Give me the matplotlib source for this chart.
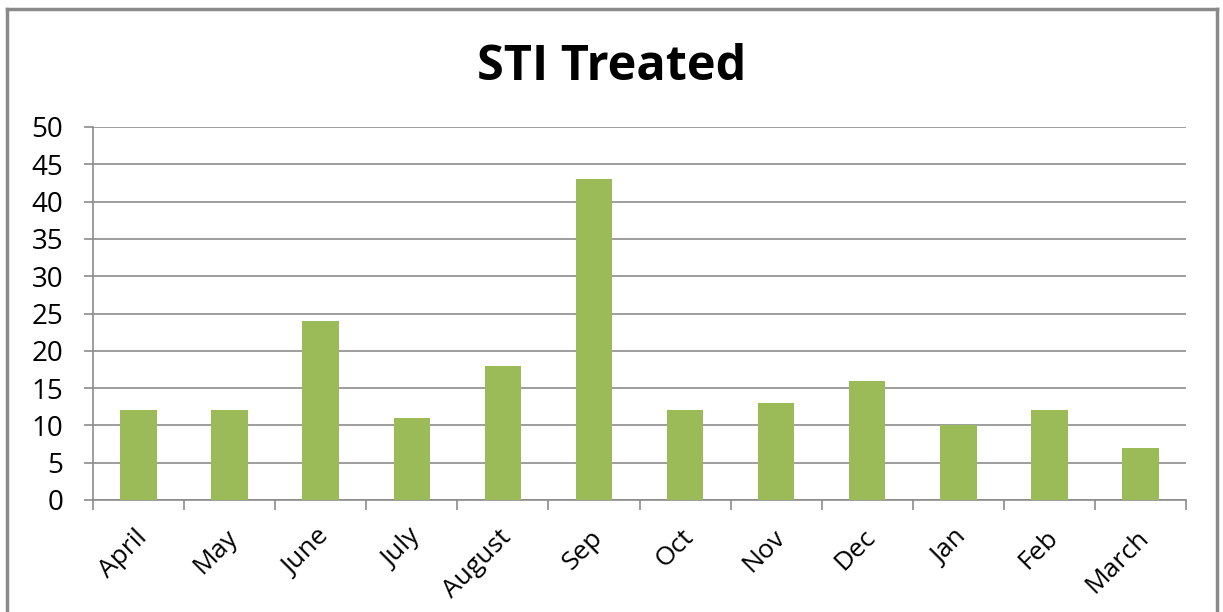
import matplotlib
matplotlib.use("Agg")
import matplotlib.pyplot as plt
from matplotlib.lines import Line2D
from matplotlib.ticker import FixedLocator
import matplotlib.transforms as mtransforms

months = ["April", "May", "June", "July", "August", "Sep", "Oct", "Nov", "Dec", "Jan", "Feb", "March"]
values = [12, 12, 24, 11, 18, 43, 12, 13, 16, 10, 12, 7]
yticks = [0, 5, 10, 15, 20, 25, 30, 35, 40, 45, 50]
title = "STI Treated"

plt.rcParams['font.family'] = ['Open Sans', 'DejaVu Sans']

W, H = 1223, 612
fig = plt.figure(figsize=(W / 100, H / 100), dpi=100)
fig.patch.set_facecolor("white")

L, R, T, B = 93, 1186, 127, 500
ax = fig.add_axes([L / W, 1 - B / H, (R - L) / W, (B - T) / H])

x = list(range(len(months)))
ax.bar(x, values, width=0.4, color="#9BBB59", zorder=3)
ax.set_xlim(-0.5, len(months) - 0.5)
ax.set_ylim(0, 50)
ax.set_yticks(yticks)
ax.set_yticklabels([str(v) for v in yticks], fontsize=20)
ax.yaxis.grid(True, color="#8c8c8c", linewidth=1.2, zorder=0)
ax.set_axisbelow(True)

ax.set_xticks(x)
ax.set_xticklabels(months, fontsize=19, rotation=45, ha="right", rotation_mode="anchor")
ax.tick_params(axis="x", which="major", length=0, pad=18)
offset = mtransforms.ScaledTranslation(-4 / 100, 0, fig.dpi_scale_trans)
for lab in ax.get_xticklabels():
    lab.set_transform(lab.get_transform() + offset)
ax.xaxis.set_minor_locator(FixedLocator([i - 0.5 for i in range(len(months) + 1)]))
ax.tick_params(axis="x", which="minor", length=7, width=1.2, color="#8c8c8c", direction="out")
ax.tick_params(axis="y", length=6.5, width=1.2, color="#8c8c8c", pad=15)

for s in ["top", "right"]:
    ax.spines[s].set_visible(False)
for s in ["left", "bottom"]:
    ax.spines[s].set_color("#8c8c8c")
    ax.spines[s].set_linewidth(1.2)

fig.text(612 / W, 1 - 67 / H, title, fontsize=35, fontweight="bold", ha="center", va="center")

# outer chart border
bc = "#8a8a8a"
fig.add_artist(Line2D([7 / W, 7 / W], [0, 1 - 9 / H], transform=fig.transFigure, color=bc, linewidth=2.5))
fig.add_artist(Line2D([7 / W, 1217 / W], [1 - 9 / H, 1 - 9 / H], transform=fig.transFigure, color=bc, linewidth=2.5))
fig.add_artist(Line2D([1217 / W, 1217 / W], [0, 1 - 9 / H], transform=fig.transFigure, color=bc, linewidth=2.5))

fig.savefig("out.png", dpi=100)
